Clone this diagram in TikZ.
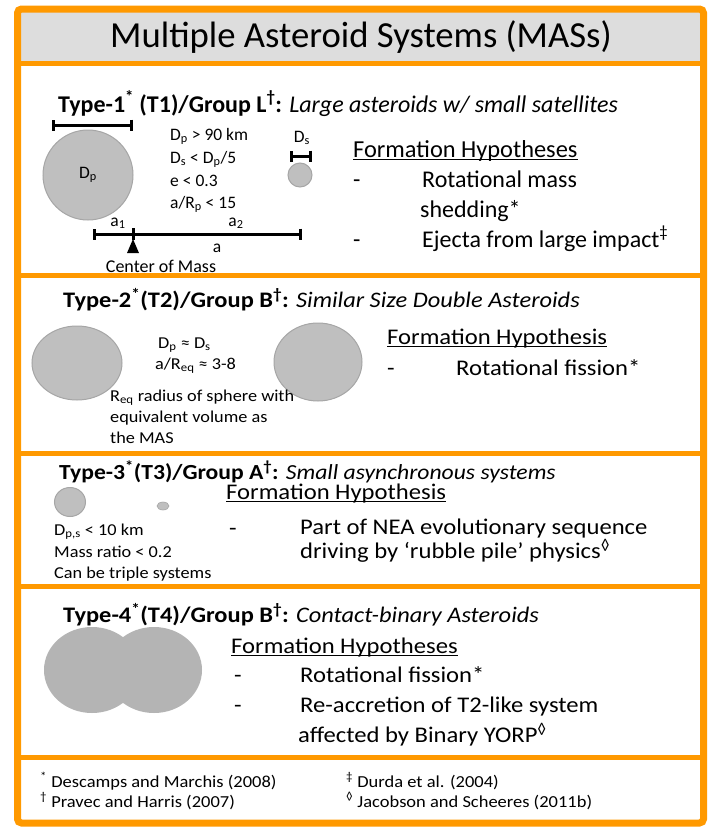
\documentclass[tikz,border=0pt]{standalone}
\usepackage{fontspec}
\setmainfont{Carlito}
\newfontfamily\panelfont[FakeStretch=1.1]{Carlito}
\usepackage{tikz}
\usetikzlibrary{arrows.meta, positioning, shapes.geometric}

\definecolor{masorange}{RGB}{255,153,0}
\definecolor{titlegray}{RGB}{221,221,221}
\definecolor{rockgray}{RGB}{191,191,191}
\definecolor{rockedge}{RGB}{166,166,166}
\definecolor{blobgray}{RGB}{180,180,180}

\newcommand{\sbs}[1]{\textsubscript{#1}}
\newcommand{\sps}[1]{\textsuperscript{#1}}

\begin{document}
\begin{tikzpicture}[
    x=1pt, y=-1pt,
    frame/.style={draw=masorange, line width=7pt, rounded corners=4pt},
    divider/.style={draw=masorange, line width=5pt},
    banner/.style={font=\fontsize{36.7}{42}\selectfont},
    heading/.style={anchor=base west, inner sep=0pt, font=\fontsize{24}{28}\selectfont\bfseries},
    wideheading/.style={anchor=base west, inner sep=0pt, font=\panelfont\fontsize{22.2}{26}\selectfont\bfseries},
    hyptitle/.style={anchor=base west, inner sep=0pt, font=\fontsize{24.4}{28}\selectfont},
    hypline/.style={anchor=base west, inner sep=0pt, font=\fontsize{24}{28}\selectfont},
    widehyp/.style={anchor=base west, inner sep=0pt, font=\panelfont\fontsize{22.4}{26}\selectfont},
    param/.style={anchor=base west, inner sep=0pt, font=\fontsize{17.5}{20}\selectfont},
    note/.style={anchor=base west, inner sep=0pt, font=\panelfont\fontsize{16.6}{19}\selectfont},
    source/.style={anchor=base west, inner sep=0pt, font=\panelfont\fontsize{16.8}{19}\selectfont},
    rock/.style={ellipse, draw=rockedge, fill=rockgray, line width=1pt, inner sep=0pt},
    blob/.style={ellipse, fill=blobgray, inner sep=0pt, minimum width=96pt, minimum height=86pt},
    dimbar/.style={line width=3pt, {Bar[width=11pt]}-{Bar[width=11pt]}},
    underln/.style={line width=1.2pt}
]

\fill[white] (0,0) rectangle (720,830);
\useasboundingbox (0,0) rectangle (720,830);
\fill[titlegray] (17.5,9) rectangle (703.5,63);
\foreach \yy in {63,275,453,586,757}
    \draw[divider] (17.5,\yy) -- (703.5,\yy);
\draw[frame] (17.5,9) rectangle (703.5,823);

\node[banner] (banner) at (361,37) {Multiple Asteroid Systems (MASs)};

% Type-1
\node[heading] (t1head) at (58,112) {Type-1\sps{*} (T1)/Group L\sps{†}: {\mdseries\itshape Large asteroids w/ small satellites}};
\node[rock, minimum width=90pt, minimum height=90pt, font=\fontsize{17.5}{20}\selectfont] (primary) at (88,175) {D\sbs{p}};
\coordinate (dpL) at (52,125);
\coordinate (dpR) at (133,125);
\draw[dimbar] (dpL) -- (dpR);
\node[param] (p1a) at (170,140) {D\sbs{p} > 90 km};
\node[param] (p1b) at (170,163) {D\sbs{s} < D\sbs{p}/5};
\node[param] (p1c) at (170,186) {e < 0.3};
\node[param] (p1d) at (170,208) {a/R\sbs{p} < 15};
\node[param, anchor=base] (dslabel) at (302,142) {D\sbs{s}};
\coordinate (dsL) at (290,156);
\coordinate (dsR) at (312,156);
\draw[dimbar] (dsL) -- (dsR);
\node[rock, minimum width=24pt, minimum height=24pt] (secondary) at (300,175) {};
\coordinate (axL) at (93,234);
\coordinate (cm) at (133,234);
\coordinate (axR) at (302,234);
\draw[dimbar] (axL) -- (axR);
\draw[line width=3pt] ([yshift=6pt]cm) -- ([yshift=-6pt]cm);
\fill ([yshift=-5pt]cm) -- ++(-6,14) -- ++(12,0) -- cycle;
\node[param, anchor=base] (a1) at (118,226) {a\sbs{1}};
\node[param, anchor=base] (a2) at (236,226) {a\sbs{2}};
\node[param, anchor=base] (alen) at (217,252) {a};
\node[param, anchor=base, font=\fontsize{18}{20}\selectfont] (cmlabel) at (161,272) {Center of Mass};
\node[hyptitle] (fh1) at (353,157) {Formation Hypotheses};
\draw[underln] ([yshift=-2.5pt]fh1.base west) -- ([yshift=-2.5pt]fh1.base east);
\node[hypline] (d1a) at (353,187) {-};
\node[hypline] (h1a) at (422,187) {Rotational mass};
\node[hypline] (h1b) at (420,217) {shedding*};
\node[hypline] (d1b) at (353,247) {-};
\node[hypline] (h1c) at (422,247) {Ejecta from large impact\sps{‡}};

% Type-2
\node[wideheading] (t2head) at (63,307) {Type-2\sps{*}(T2)/Group B\sps{†}: {\mdseries\itshape Similar Size Double Asteroids}};
\node[rock, minimum width=90pt, minimum height=74pt] (leftrock) at (77,363) {};
\node[rock, minimum width=88pt, minimum height=78pt] (rightrock) at (318,362) {};
\node[note] (p2a) at (158,348) {D\sbs{p} ≈ D\sbs{s}};
\node[note] (p2b) at (155,369) {a/R\sbs{eq} ≈ 3-8};
\node[note] (p2c) at (110,401) {R\sbs{eq} radius of sphere with};
\node[note] (p2d) at (110,422) {equivalent volume as};
\node[note] (p2e) at (110,443) {the MAS};
\node[widehyp] (fh2) at (387,344) {Formation Hypothesis};
\draw[underln] ([yshift=-2.5pt]fh2.base west) -- ([yshift=-2.5pt]fh2.base east);
\node[widehyp] (d2a) at (387,375) {-};
\node[widehyp] (h2a) at (456,375) {Rotational fission*};

% Type-3
\node[wideheading, font=\panelfont\fontsize{21.5}{25}\selectfont\bfseries] (t3head) at (59,479) {Type-3\sps{*}(T3)/Group A\sps{†}: {\mdseries\itshape Small asynchronous systems}};
\node[rock, minimum width=31pt, minimum height=29pt] (t3big) at (70,502) {};
\node[rock, minimum width=12pt, minimum height=8pt, line width=0.6pt] (t3small) at (163,506) {};
\node[note] (p3a) at (54,535) {D\sbs{p,s} < 10 km};
\node[note] (p3b) at (54,557) {Mass ratio < 0.2};
\node[note] (p3c) at (54,578) {Can be triple systems};
\node[widehyp] (fh3) at (226,499) {Formation Hypothesis};
\draw[underln] ([yshift=-2.5pt]fh3.base west) -- ([yshift=-2.5pt]fh3.base east);
\node[widehyp] (d3a) at (229,535) {-};
\node[widehyp] (h3a) at (300,534) {Part of NEA evolutionary sequence};
\node[widehyp] (h3b) at (300,558) {driving by ‘rubble pile’ physics\sps{◊}};

% Type-4
\node[wideheading] (t4head) at (63,622) {Type-4\sps{*}(T4)/Group B\sps{†}: {\mdseries\itshape Contact-binary Asteroids}};
\node[blob] (lobeA) at (92,670) {};
\node[blob] (lobeB) at (154,670) {};
\node[widehyp] (fh4) at (231,653) {Formation Hypotheses};
\draw[underln] ([yshift=-2.5pt]fh4.base west) -- ([yshift=-2.5pt]fh4.base east);
\node[widehyp] (d4a) at (234,682) {-};
\node[widehyp] (h4a) at (300,682) {Rotational fission*};
\node[widehyp] (d4b) at (234,712) {-};
\node[widehyp] (h4b) at (300,712) {Re-accretion of T2-like system};
\node[widehyp] (h4c) at (298,742) {affected by Binary YORP\sps{◊}};

% references
\node[source] (r1) at (40,787) {\sps{*} Descamps and Marchis (2008)};
\node[source] (r2) at (40,807) {\sps{†} Pravec and Harris (2007)};
\node[source] (r3) at (346,787) {\sps{‡} Durda et al. (2004)};
\node[source] (r4) at (346,807) {\sps{◊} Jacobson and Scheeres (2011b)};

\end{tikzpicture}
\end{document}
